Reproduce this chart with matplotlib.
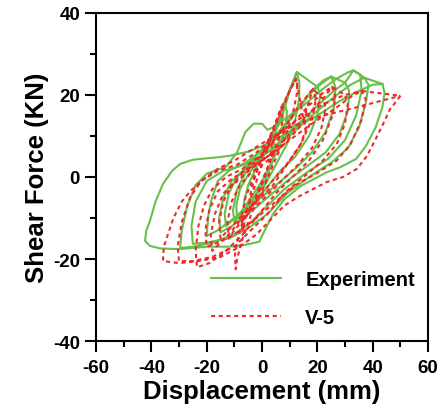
import matplotlib
matplotlib.use("Agg")
import matplotlib.pyplot as plt
from matplotlib.ticker import MultipleLocator

plt.rcParams['font.family'] = ['Liberation Sans', 'DejaVu Sans']
plt.rcParams['font.weight'] = 'bold'
plt.rcParams['axes.unicode_minus'] = False

# Experiment hysteresis loops (displacement mm, shear force kN)
exp_loops = [
    [(4,9),(4.5,7),(3.5,3),(1,-1),(-2,-4),(-5,-7),(-6,-8),(-6.5,-6),(-5,-2),(-3,1),(-1,4),(1,6.5),(3,8.5),(4,9)],
    [(8,18),(9,16),(8.5,12),(6,7),(3,3),(0,-1),(-4,-5),(-7,-8),(-9,-10),(-9.3,-7),(-8,-3),(-5,0.5),(-2,3.5),
     (1,7),(4,11),(6.5,15),(8,18)],
    [(12.6,25.6),(13.5,23),(13.4,19),(12,14),(9,8),(5,3),(1,-2),(-4,-6),(-9,-9.5),(-13,-12),(-13.5,-9),(-12,-4),
     (-9,0),(-5,3),(-1,6),(3,9),(7,14),(10,21),(12.6,25.6)],
    [(20,22),(21,20),(20,15),(17,10),(12,5),(6,1),(0,-4),(-6,-8),(-10,-11),(-10.5,-8),(-9,-3),(-6,1),(-2,4),
     (3,8),(8,12),(13,16.5),(17,20),(20,22)],
    [(25,24.5),(26.5,22),(26,17),(23,11),(18,6),(12,2),(5,-2),(-2,-6),(-10,-10),(-16,-13),(-20,-14.4),(-19.5,-10),
     (-18.5,-6),(-16,-1),(-12,1.5),(-6,3.5),(0,6.5),(6,11),(12,16),(18,21),(22,23.5),(25,24.5)],
    [(30,23),(31.5,21),(31,16),(28,10.5),(23,6),(16,2.5),(9,-1),(2,-5),(-5,-9),(-11,-12),(-15,-13.5),(-15.5,-10),
     (-14,-5),(-11,-1),(-6,2),(0,5),(7,9),(14,13.5),(21,18),(26,21),(30,23)],
    [(33,26),(35.5,25),(36,21),(34,15),(30,9),(24,4.5),(16,1),(8,-3),(2,-7),(-4,-11),(-10,-14),(-18,-16),(-25,-17),
     (-29.6,-17.3),(-29,-13),(-27,-7),(-24,-2),(-20,0.8),(-13,2.5),(-9,6),(-6,11),(-3,13),(0,13),(2,11.5),(5,12.5),
     (10,15),(16,18),(22,21.5),(27,24),(31,25.5),(33,26)],
    [(37,24.2),(38.5,22.5),(37.5,18),(35,12),(31,7),(25,3.5),(17,0),(9,-4),(2,-9),(-5,-12.5),(-12,-15),(-20,-16),
     (-25,-16.3),(-25.5,-12),(-24,-6),(-20,-1),(-14,1.5),(-6,3),(2,6),(10,10),(18,15),(26,19.5),(32,22.5),(37,24.2)],
    [(43.5,22.7),(44.3,20.5),(43.5,17),(41,12),(37.5,7.5),(34,4.4),(28,2.3),(23.5,1.2),(14,-2.2),(8,-5.5),(4,-9),
     (1,-13),(-1,-15.8),(-6,-16.5),(-12,-17),(-20,-17),(-30,-17.6),(-37,-17.4),(-40.5,-16.8),(-42.3,-15.6),
     (-41.8,-13),(-40.5,-10.7),(-38.5,-6),(-35.8,-1.7),(-32.5,1.5),(-29.6,3.2),(-25,4.2),(-22.4,4.4),(-16,4.8),
     (-11.6,5.2),(-5,6.2),(0,7.5),(6,9.5),(12,12),(20,15),(28,18.5),(35,21),(40,22.5),(43.5,22.7)],
]

# V-5 simulated hysteresis loops
sim_loops = [
    [(3,10),(3.5,7),(2.5,3),(0.5,-1),(-2,-5),(-4,-8),(-4.5,-5),(-3,-1),(-1,3),(1,7),(3,10)],
    [(7,17),(7.5,14),(6,9),(3,4),(0,-1),(-3,-6),(-6,-10),(-7,-13),(-7.5,-10),(-6,-5),(-3,0),(0,5),(3,10),(5.5,14),(7,17)],
    [(12.3,24),(12.8,21),(11,15),(8,9),(4,3),(1,-2),(-2,-6),(-5,-11),(-7.5,-16),(-9,-20),(-9.5,-22.5),(-9.8,-19),
     (-8,-13),(-5,-7),(-2,-1),(1,5),(4,11),(7,16),(10,21),(12.3,24)],
    [(15,14),(16,12),(14,8),(10,4),(5,0),(0,-4),(-6,-9),(-12,-14),(-18,-18),(-18.5,-14),(-17,-9),(-14,-4),(-9,-1),
     (-4,2),(2,5),(8,9),(12,12),(15,14)],
    [(18.4,21.5),(19.5,19),(18,14),(14,8),(9,3),(4,-2),(-2,-6),(-8,-10),(-13,-13.5),(-15,-15),(-15.5,-11),(-14,-6),
     (-11,-2),(-7,1),(-2,4),(3,8),(8,12),(13,17),(18.4,21.5)],
    [(22,19),(23,17),(21.5,12),(18,7),(13,3),(7,-1),(1,-5),(-5,-9),(-10,-13),(-12,-15),(-12.5,-11),(-11,-6),(-8,-2),
     (-4,1),(2,4),(8,8),(14,12.5),(19,17),(22,19)],
    [(25.3,22),(26.5,19.5),(25.5,15),(22,9),(17,4),(11,0),(5,-4),(-1,-9),(-7,-14),(-13,-18),(-19,-21),(-23.5,-22),
     (-24,-18),(-23,-12),(-21,-7),(-18,-3),(-13,0),(-7,2),(-1,5),(5,9),(11,13),(17,17.5),(22,20.5),(25.3,22)],
    [(30,20),(31,18),(30,13),(27,8),(22,4),(15,0),(8,-4),(2,-9),(-4,-13),(-10,-17),(-18,-19.5),(-25,-20.5),(-30,-20.5),
     (-30.5,-17),(-29,-11),(-26,-5),(-22,-1),(-16,1.5),(-9,3),(-2,6),(5,10),(12,13.5),(20,17),(26,19),(30,20)],
    [(36,21),(37.5,19),(36,14),(32,8),(27,4),(20,1),(12,-2),(5,-6),(-2,-10),(-10,-14),(-16,-16),(-20,-17),(-20.5,-13),
     (-19,-8),(-16,-3.5),(-11,-0.5),(-5,2),(2,5),(10,9),(18,13),(26,16.5),(32,19.5),(36,21)],
    [(50,19.8),(48,18),(46.3,16.6),(43.4,12.4),(40.5,8.5),(37.9,5.1),(34.3,2),(29.3,0),(23.5,-1.2),(13.7,-4.6),(8,-7),
     (3,-10.5),(-2,-14),(-8,-17),(-15,-19.5),(-23,-20.5),(-30,-21),(-35.8,-20.5),(-35.5,-17),(-34,-14),(-32,-10),
     (-29,-6),(-26,-3.5),(-21,-0.5),(-16,2),(-10,4),(-4,6.5),(2,9),(8,11.5),(15,13.5),(22,15),(27.1,15.8),(34.3,17),
     (42.6,18.5),(50,19.8)],
]

series_labels = ["Experiment", "V-5"]
x_ticks = [-60, -40, -20, 0, 20, 40, 60]
y_ticks = [-40, -20, 0, 20, 40]

green = '#6abf4b'
red = '#ee2a2a'

fig = plt.figure(figsize=(4.39, 4.14), dpi=100)
ax = fig.add_axes([0.2187, 0.1739, 0.7563, 0.7923])

exp_x, exp_y = [], []
for loop in exp_loops:
    exp_x += [p[0] for p in loop]
    exp_y += [p[1] for p in loop]
sim_x, sim_y = [], []
for loop in sim_loops:
    sim_x += [p[0] for p in loop]
    sim_y += [p[1] for p in loop]

ax.plot(exp_x, exp_y, color=green, lw=1.5, label=series_labels[0], zorder=2,
        solid_joinstyle='round')
ax.plot(sim_x, sim_y, color=red, lw=1.5, linestyle=(0, (2.0, 1.7)), label=series_labels[1], zorder=3)

ax.set_xlim(-60, 60)
ax.set_ylim(-40, 40)
ax.set_xticks(x_ticks)
ax.set_yticks(y_ticks)
ax.xaxis.set_minor_locator(MultipleLocator(10))
ax.yaxis.set_minor_locator(MultipleLocator(10))
ax.tick_params(which='major', direction='out', length=8, width=1.5, labelsize=13.5,
               top=False, right=False)
ax.tick_params(axis='x', which='major', pad=5)
ax.tick_params(axis='y', which='major', pad=3.5)
ax.tick_params(which='minor', direction='out', length=4.5, width=1.5, top=False, right=False)
for lbl in ax.get_xticklabels() + ax.get_yticklabels():
    lbl.set_fontweight('bold')
for s in ax.spines.values():
    s.set_linewidth(1.5)

ax.set_xlabel("Displacement (mm)", fontsize=18.5, fontweight='bold', labelpad=2)
ax.set_ylabel("Shear Force (KN)", fontsize=18.5, fontweight='bold', labelpad=3)

leg = ax.legend(loc='upper left', bbox_to_anchor=(0.345, 0.217), frameon=False,
                fontsize=14.5, handlelength=3.5, handletextpad=1.2, labelspacing=0.95,
                borderpad=0, borderaxespad=0)
for t in leg.get_texts():
    t.set_fontweight('bold')

fig.savefig("out.png", dpi=100)
